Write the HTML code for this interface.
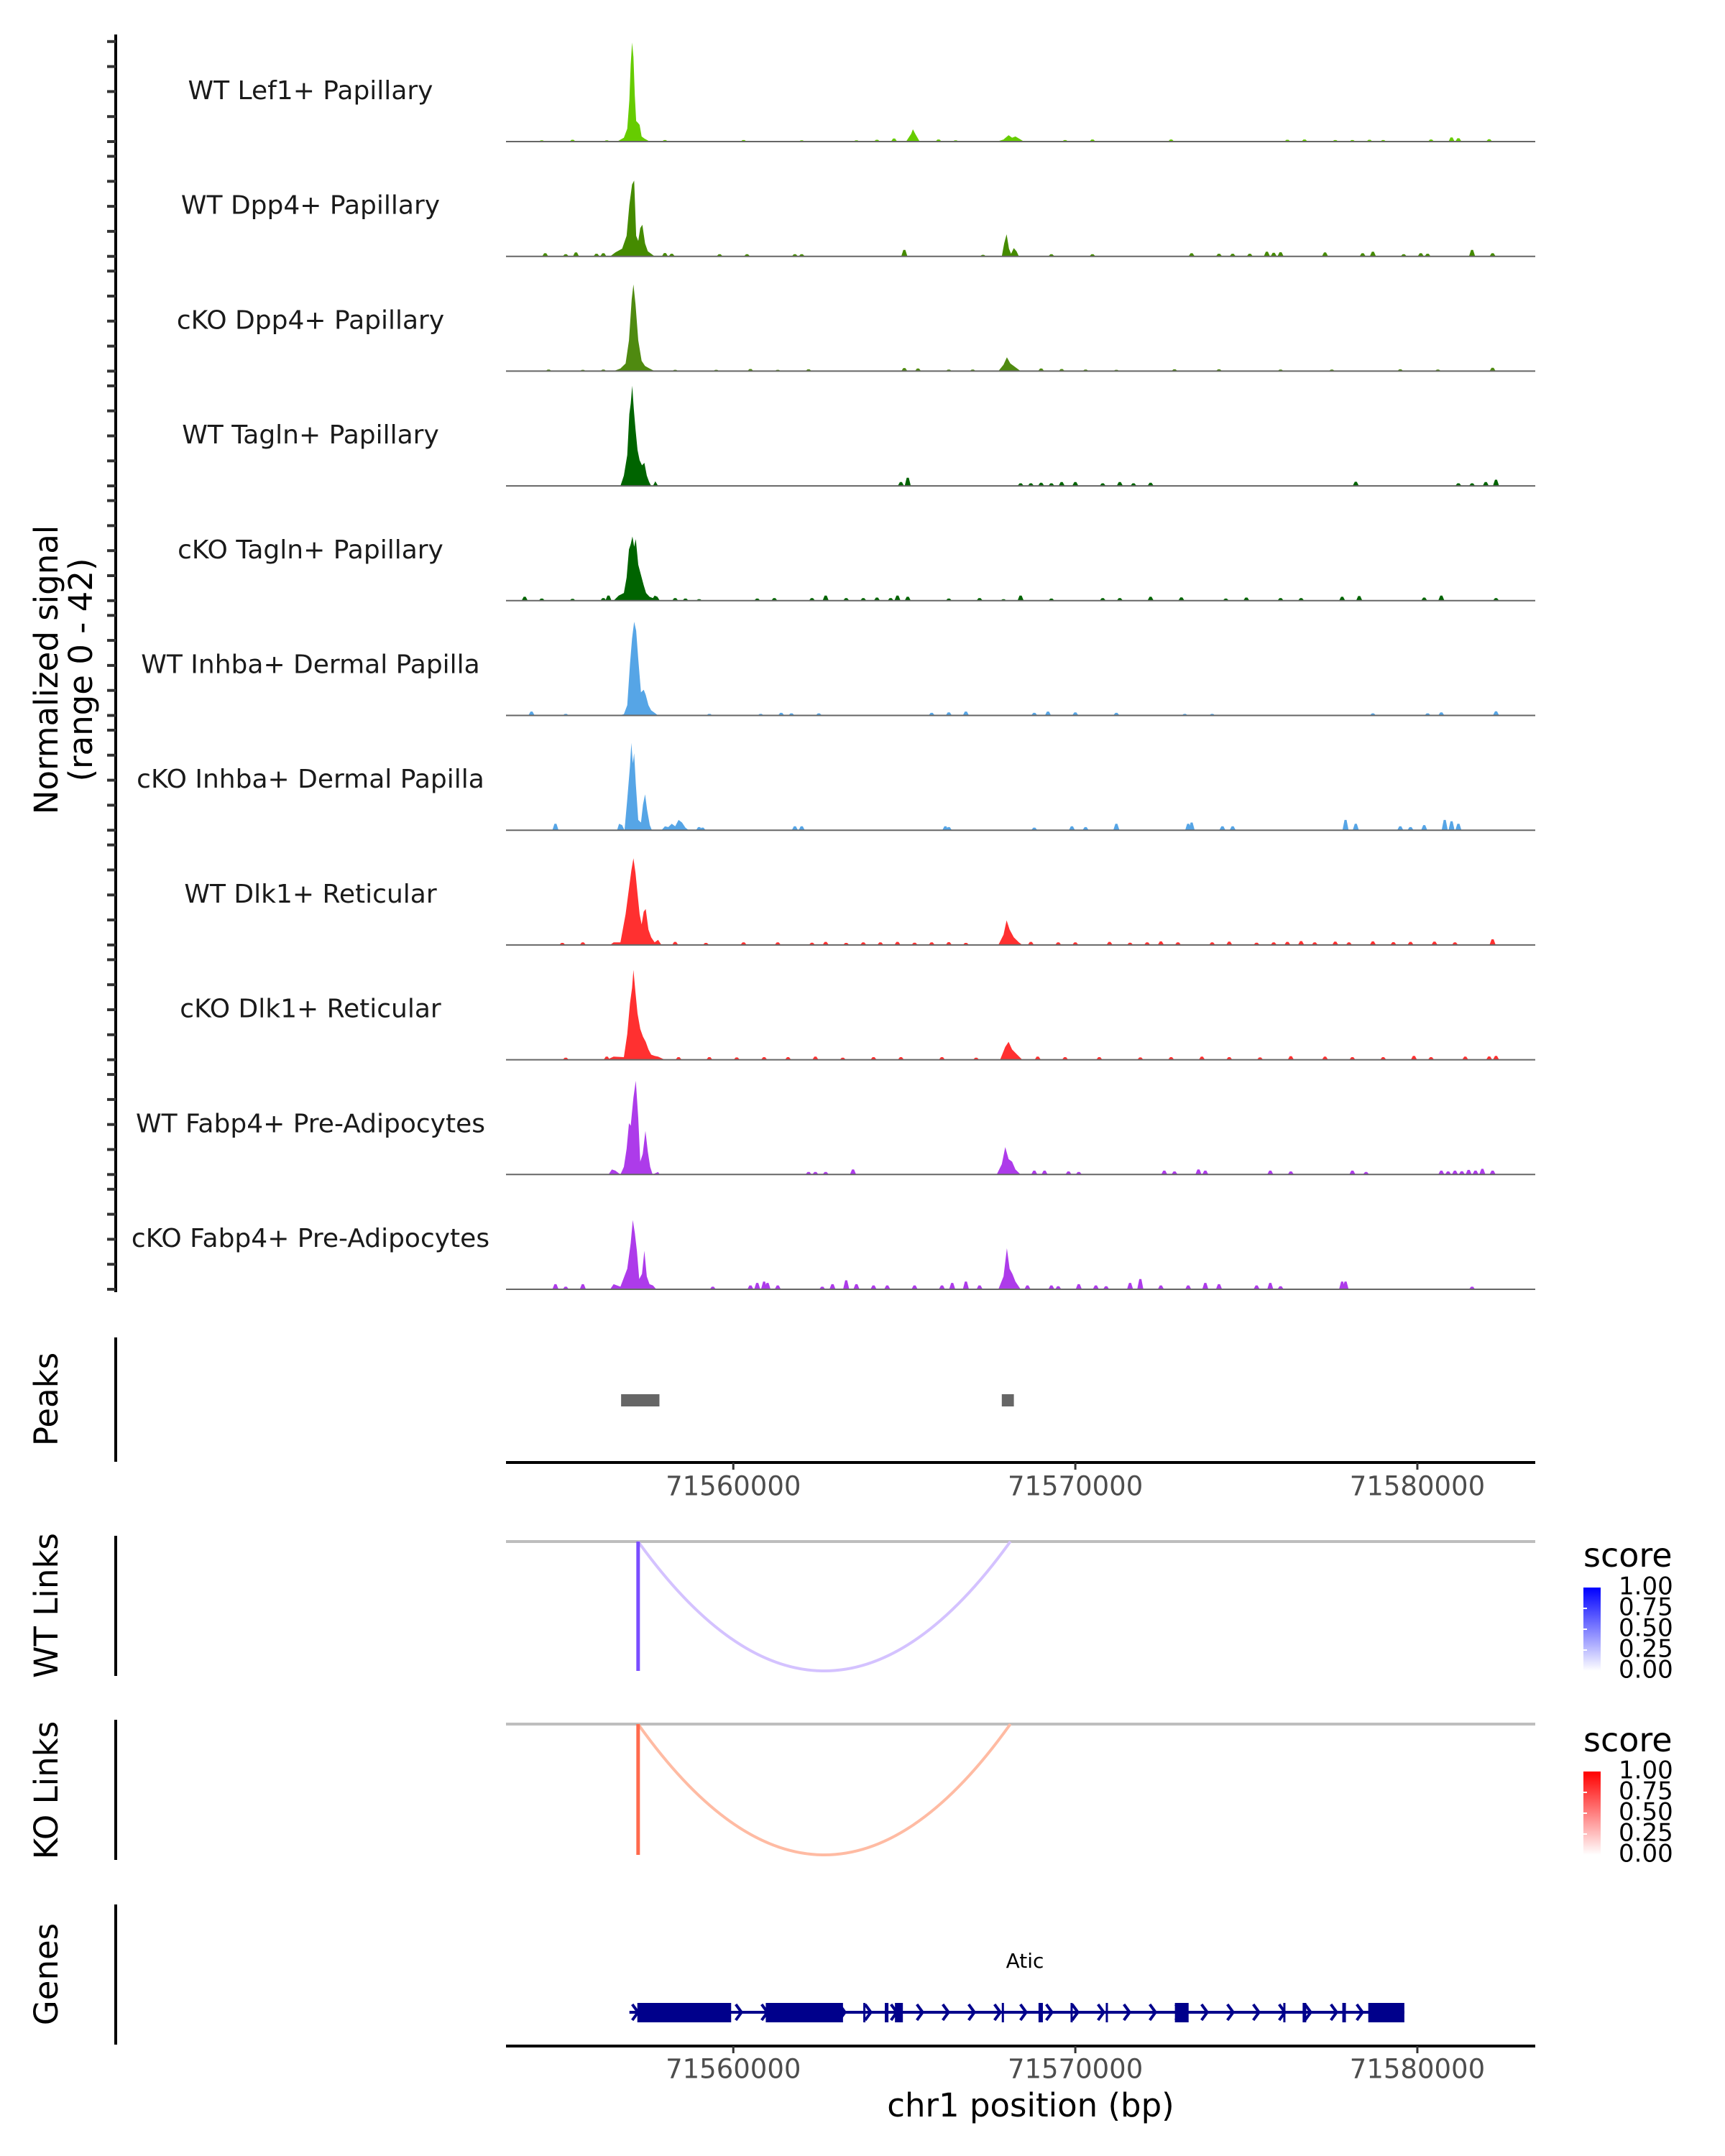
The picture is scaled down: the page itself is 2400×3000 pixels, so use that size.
<!DOCTYPE html>
<html><head><meta charset="utf-8"><style>
html,body{margin:0;padding:0;background:#fff;}
svg{display:block;font-family:"DejaVu Sans","Liberation Sans",sans-serif;}
</style></head><body>
<svg id="chart" width="2400" height="3000" viewBox="0 0 2400 3000" xmlns="http://www.w3.org/2000/svg">
<defs>
<linearGradient id="gWT" x1="0" y1="1" x2="0" y2="0"><stop offset="0" stop-color="#ffffff"/><stop offset="1" stop-color="#0000ff"/></linearGradient>
<linearGradient id="gKO" x1="0" y1="1" x2="0" y2="0"><stop offset="0" stop-color="#ffffff"/><stop offset="1" stop-color="#ff0000"/></linearGradient>
</defs>
<rect width="2400" height="3000" fill="#fff"/>
<g id="tracks"></g>
<text transform="translate(80,932) rotate(-90)" text-anchor="middle" font-size="45" fill="#000">Normalized signal</text>
<text transform="translate(128,932) rotate(-90)" text-anchor="middle" font-size="45" fill="#000">(range 0 - 42)</text>
<text transform="translate(80,1947) rotate(-90)" text-anchor="middle" font-size="45">Peaks</text>
<text transform="translate(80,2234) rotate(-90)" text-anchor="middle" font-size="45">WT Links</text>
<text transform="translate(80,2491) rotate(-90)" text-anchor="middle" font-size="45">KO Links</text>
<text transform="translate(80,2747) rotate(-90)" text-anchor="middle" font-size="45">Genes</text>
<line x1="161" y1="48" x2="161" y2="1798" stroke="#000" stroke-width="4"/>
<line x1="161" y1="1861" x2="161" y2="2034" stroke="#000" stroke-width="4"/>
<line x1="161" y1="2137" x2="161" y2="2332" stroke="#000" stroke-width="4"/>
<line x1="161" y1="2393" x2="161" y2="2588" stroke="#000" stroke-width="4"/>
<line x1="161" y1="2650" x2="161" y2="2845" stroke="#000" stroke-width="4"/>
<g id="yticks"></g>
<g id="peaks"></g>
<g id="axes"></g>
<g id="links"></g>
<g id="genes"></g>
<text x="1434" y="2945" text-anchor="middle" font-size="45">chr1 position (bp)</text>
<g>
<text x="2203" y="2180" font-size="46">score</text>
<rect x="2203" y="2209" width="24" height="116" fill="url(#gWT)"/>
</g>
<g>
<text x="2203" y="2437" font-size="46">score</text>
<rect x="2203" y="2465" width="24" height="116" fill="url(#gKO)"/>
</g>
<g id="legendlabels"></g>
</svg>
<script>
const NS="http://www.w3.org/2000/svg";
const trackNames=["WT Lef1+ Papillary","WT Dpp4+ Papillary","cKO Dpp4+ Papillary","WT Tagln+ Papillary","cKO Tagln+ Papillary","WT Inhba+ Dermal Papilla","cKO Inhba+ Dermal Papilla","WT Dlk1+ Reticular","cKO Dlk1+ Reticular","WT Fabp4+ Pre-Adipocytes","cKO Fabp4+ Pre-Adipocytes"];
const trackColors=["#66CC00","#458B00","#4F8A10","#006400","#006400","#56A5E6","#56A5E6","#FF3030","#FF3030","#AD3BEA","#AD3BEA"];
const shapePos=[
[71556600,71556800,71556900,71556960,71557000,71557040,71557080,71557120,71557160,71557200,71557260,71557320,71557400,71557480,71557560,71565050,71565200,71565250,71565320,71565450,71567700,71567900,71568050,71568150,71568250,71568400,71568500],
[71556400,71556550,71556750,71556880,71556960,71557040,71557100,71557160,71557220,71557280,71557340,71557420,71557500,71557600,71557700,71567850,71567920,71567990,71568060,71568120,71568200,71568280,71568350],
[71556500,71556700,71556850,71556950,71557030,71557080,71557140,71557220,71557320,71557420,71557550,71557700,71567750,71567900,71568000,71568100,71568250,71568400],
[71556700,71556800,71556900,71556960,71557000,71557045,71557090,71557140,71557200,71557260,71557330,71557400,71557470,71557540,71557600,71557650,71557720,71557800],
[71556500,71556650,71556800,71556880,71556950,71557000,71557050,71557100,71557150,71557220,71557300,71557380,71557450,71557550,71557650,71557700,71557780,71557850],
[71556650,71556800,71556900,71556980,71557040,71557100,71557160,71557220,71557300,71557380,71557440,71557520,71557600,71557700,71557800],
[71556600,71556660,71556750,71556820,71556900,71556980,71557020,71557060,71557100,71557150,71557220,71557300,71557360,71557420,71557480,71557560,71557620,71557900,71558000,71558100,71558200,71558300,71558400,71558500,71558600,71558700],
[71556400,71556500,71556700,71556850,71556950,71557020,71557080,71557140,71557200,71557260,71557320,71557380,71557440,71557520,71557600,71557700,71557800,71557900,71567750,71567900,71567990,71568080,71568200,71568350,71568450],
[71556300,71556500,71556800,71556900,71556980,71557040,71557080,71557140,71557200,71557280,71557360,71557440,71557520,71557600,71557700,71557800,71558000,71567800,71567950,71568050,71568150,71568300,71568450],
[71556350,71556450,71556550,71556700,71556800,71556880,71556950,71557000,71557080,71557150,71557220,71557280,71557350,71557430,71557500,71557570,71557640,71557800,71557850,71567700,71567850,71567950,71568050,71568150,71568250,71568400],
[71556400,71556500,71556700,71556900,71557000,71557060,71557120,71557180,71557250,71557330,71557400,71557470,71557550,71557650,71557750,71567750,71567900,71568000,71568080,71568160,71568250,71568400]
];
const shapeVal=[
[0,1.5,5,16,30,38.6,33,18,8,7.5,6.5,2,1.2,0.6,0,0,3,4.8,3,0,0,0.8,2.5,1.5,2,0.8,0],
[0,1.5,3,8,20,28,29.5,8,6,11,12.3,5,2,1,0,0,5,8.6,3,1,3.2,2,0],
[0,1,3,12,28,33.8,26,12,4,2,1,0,0,2.5,5.4,3,1.5,0],
[0,4,12,28,32,39,30,22,14,10,8,9,4,1.5,0,0,1.8,0],
[0,2,3,9,20,22,25,21,24,14,10,6,3,1.5,1,2,1.5,0],
[0,0.5,4,20,30,36.5,33,22,9,10,8,4,2,1,0],
[0,2.5,2,0,12,25,34,26,30,18,4,3,10,14,8,2,0,0,1.5,1.2,2.5,1.5,4,3,1,0],
[0,1,1,12,22,29,33.8,28,20,12,8,13,14,6,3,1,2,0,0,4,9.6,6,3,1,0],
[0,1.2,1,10,22,28,35,26,18,12,9,7,4,2,1.5,1.2,0,0,5,7,4,2,0],
[0,2,1.5,0,3,10,20,19,30,36.5,22,5,8,17,9,3,0,1,0,0,4,10.7,6,5,2,0],
[0,2,1,8,18,27,22,15,4,6,15,5,2,1.5,0,0,5,16,8,6,3,0]
];
const blipPos=[
[71554400,71555300,71556300,71558000,71560300,71562000,71563600,71564200,71564700,71566000,71566500,71569700,71570500,71572800,71576200,71576700,71577600,71578100,71578600,71579000,71580400,71581000,71581200,71582100],
[71554500,71555100,71555400,71556000,71556200,71558000,71558200,71559600,71560400,71561800,71562000,71565000,71567300,71569300,71570500,71573400,71574200,71574600,71575100,71575600,71575800,71576000,71577300,71578400,71578700,71579600,71580100,71580300,71581600,71582200],
[71554600,71555600,71556200,71558300,71559500,71560500,71561300,71562200,71565000,71565400,71566300,71567000,71569000,71569600,71570300,71571200,71572900,71574200,71576000,71577500,71579500,71580600,71582200],
[71564900,71565100,71568400,71568700,71569000,71569300,71569600,71570000,71570800,71571300,71571700,71572200,71578200,71581200,71581600,71582000,71582300],
[71553900,71554400,71555300,71556200,71556350,71558300,71558600,71559000,71560700,71561200,71562300,71562700,71563300,71563800,71564200,71564600,71564800,71565100,71566300,71567200,71567900,71568400,71569300,71570800,71571300,71572200,71573100,71574400,71575000,71576000,71576600,71577800,71578300,71580200,71580700,71582300],
[71554100,71555100,71559300,71560800,71561400,71561700,71562500,71565800,71566300,71566800,71568800,71569200,71570000,71571200,71573200,71574000,71578700,71580300,71580700,71582300],
[71554800,71559000,71559100,71561800,71562000,71566200,71566300,71568800,71569900,71570300,71571200,71573300,71573400,71574300,71574600,71577900,71578200,71579500,71579800,71580200,71580800,71581000,71581200],
[71555000,71555600,71558300,71559200,71560300,71561300,71562300,71562700,71563300,71563800,71564300,71564800,71565300,71565800,71566300,71566800,71568700,71569500,71570000,71571000,71571600,71572100,71572500,71573000,71574000,71574500,71575300,71575800,71576200,71576600,71577000,71577600,71578000,71578700,71579300,71579800,71580500,71581100,71582200],
[71555100,71556300,71558400,71559300,71560100,71560900,71561600,71562400,71563200,71564100,71564900,71566100,71567100,71568900,71569700,71570700,71571900,71572800,71573700,71574500,71575400,71576300,71577300,71578100,71579000,71579900,71580400,71581400,71582100,71582300],
[71562200,71562400,71562700,71563500,71568800,71569100,71569800,71570100,71572600,71572900,71573600,71573800,71575700,71576300,71578100,71578500,71580700,71580900,71581100,71581300,71581500,71581700,71581900,71582200],
[71554800,71555100,71555600,71559400,71560500,71560700,71560900,71561000,71561300,71562600,71562900,71563300,71563600,71564100,71564500,71565300,71566100,71566400,71566800,71567200,71568600,71569300,71569500,71570100,71570600,71570900,71571600,71571900,71572500,71573300,71573800,71574200,71575300,71575700,71576000,71577800,71577900,71581600]
];
const blipVal=[
[0.5,0.7,0.5,0.6,0.6,0.5,0.5,0.7,1.2,0.8,0.5,0.6,0.8,0.8,0.7,0.8,0.6,0.6,0.7,0.6,0.8,1.6,1.3,0.9],
[1.2,0.8,1.5,1,1.2,1.3,1.0,0.8,0.8,0.8,0.8,2.5,0.6,0.8,0.8,1.2,1.0,1.0,1.0,1.8,1.4,1.6,1.5,1.2,1.8,0.8,1.2,1.0,2.5,1.2],
[0.6,0.5,0.6,0.5,0.5,0.8,0.5,0.7,1.2,1.0,0.6,0.6,1.0,0.8,0.6,0.5,0.7,0.7,0.6,0.6,0.7,0.6,1.3],
[1.5,3.2,1.0,1.0,1.2,1.0,1.5,1.5,1.0,1.5,1.0,1.2,1.6,1.0,1.0,1.5,2.4],
[1.5,0.8,0.7,1.0,2.0,1.0,0.8,0.6,0.8,1.0,1.0,2.0,1.0,1.0,1.2,1.0,2.0,1.5,0.8,1.0,0.6,2.0,0.8,1.0,1.0,1.5,1.3,0.8,1.2,1.0,1.0,1.5,1.8,1.2,2.0,1.0],
[1.5,0.6,0.6,0.6,1.0,0.8,0.8,1.0,1.2,1.5,1.0,1.5,1.2,1.0,0.6,0.6,0.8,0.8,1.2,1.6],
[2.5,1.2,1.0,1.5,1.5,1.5,1.2,1.0,1.5,1.2,2.5,2.5,3.0,1.5,1.5,4.0,2.5,1.5,1.2,2.0,4.0,3.5,2.5],
[0.8,1.0,1.2,0.8,1.0,1.0,0.9,1.2,0.8,1.0,1.0,1.2,0.9,1.0,1.1,0.8,1.2,1.0,1.0,1.2,0.9,1.0,1.4,1.0,1.0,1.3,0.9,1.0,1.2,1.5,1.0,1.3,1.0,1.4,1.1,1.2,1.3,1.0,2.2],
[0.8,1.2,1.0,1.0,0.9,1.0,1.0,1.2,0.8,1.0,1.0,1.0,0.8,1.2,1.0,1.0,0.9,1.0,1.2,1.0,0.9,1.4,1.2,1.0,1.0,1.5,1.0,1.2,1.3,1.5],
[1,1,1,2,1.5,1.5,1.2,1,1.5,1.2,2,1.5,1.5,1.2,1.5,1,1.5,1.2,1.5,1.3,1.8,1.5,2.2,1.5],
[2,1,2,1,1.5,2.5,3,2.5,1.5,1,2,3.5,2,1.5,1.5,1.5,1.5,2.5,3,1.5,1.5,1.5,1.2,2,1.5,1.2,2.5,4,1.5,1.5,2.5,2,1.5,2.5,1.2,3,3,1]
];
const peakStarts=[71556719,71567850];
const peakEnds=[71557840,71568203];
const xTicks=[71560000,71570000,71580000];
const xTickLabels=["71560000","71570000","71580000"];
const linkStart=[71557217];
const linkEnd=[71568100];
const exonStarts=[71557194,71560949,71563800,71564430,71564726,71567850,71568924,71569860,71570890,71572911,71576080,71576646,71577806,71578565];
const exonEnds=[71559937,71563207,71563860,71564536,71564958,71567900,71569051,71569900,71570930,71573312,71576120,71576751,71577911,71579620];
const geneStart=[71556962];
const geneEnd=[71579620];
const legendLabels=["1.00","0.75","0.50","0.25","0.00"];
const legendVals=[1,0.75,0.5,0.25,0];

const X0=704,X1=2136,BP0=71553354,BP1=71583447;
function x(bp){return X0+(bp-BP0)*(X1-X0)/(BP1-BP0);}
const TRACK0=197,TRACKH=159.7,YMAX=42,YPX=150;
function base(i){return TRACK0+i*TRACKH;}
function y(i,v){return base(i)-v*YPX/YMAX;}
function mk(tag,attrs,parent){const e=document.createElementNS(NS,tag);for(const k in attrs)e.setAttribute(k,attrs[k]);parent.appendChild(e);return e;}

const gT=document.getElementById('tracks');
for(let i=0;i<trackNames.length;i++){
  const g=mk('g',{},gT);
  
  
  const b=base(i);
  const lab=mk('text',{x:432,y:b-59,'text-anchor':'middle','font-size':36,fill:'#1a1a1a'},g);
  lab.textContent=trackNames[i];
  
  
  const P=shapePos[i],V=shapeVal[i];
  let d='M'+x(P[0]).toFixed(1)+','+b;
  for(let k=0;k<P.length;k++)d+=' L'+x(P[k]).toFixed(1)+','+y(i,V[k]).toFixed(1);
  d+=' L'+x(P[P.length-1]).toFixed(1)+','+b+' Z';
  const area=mk('path',{d:d,fill:trackColors[i]},g);
  
  
  const BP=blipPos[i],BV=blipVal[i];
  for(let k=0;k<BP.length;k++){
    const bl=mk('path',{d:'M'+x(BP[k]-90).toFixed(1)+','+b+' L'+x(BP[k]-30).toFixed(1)+','+y(i,BV[k]).toFixed(1)+' L'+x(BP[k]+30).toFixed(1)+','+y(i,BV[k]).toFixed(1)+' L'+x(BP[k]+90).toFixed(1)+','+b+' Z',fill:trackColors[i]},g);
    
    
  }
  const bl=mk('line',{x1:X0,x2:X1,y1:b,y2:b,stroke:'#666',"stroke-width":2},g);
  
  
}
const gY=document.getElementById('yticks');
for(let i=0;i<trackNames.length;i++){
  for(let k=0;k<5;k++){
    const yy=base(i)-k*34.8;
    const t=mk('line',{x1:149,x2:161,y1:yy,y2:yy,stroke:'#333','stroke-width':4},gY);
    
    
  }
}
const gP=document.getElementById('peaks');
for(let k=0;k<peakStarts.length;k++){
  const r=mk('rect',{x:x(peakStarts[k]),y:1940,width:x(peakEnds[k])-x(peakStarts[k]),height:17,fill:'#666666'},gP);
  
  
}
const gA=document.getElementById('axes');
[[2035,2070],[2847,2881]].forEach(function(a,ai){
  const l=mk('line',{x1:X0,x2:X1,y1:a[0],y2:a[0],stroke:'#000','stroke-width':4},gA);
  
  
  for(let k=0;k<xTicks.length;k++){
    const t=mk('line',{x1:x(xTicks[k]),x2:x(xTicks[k]),y1:a[0],y2:a[0]+10,stroke:'#333','stroke-width':3},gA);
    
    
    const tl=mk('text',{x:x(xTicks[k]),y:a[1],'text-anchor':'middle','dominant-baseline':'middle','font-size':37,fill:'#4d4d4d'},gA);
    tl.textContent=xTickLabels[k];
    
    
  }
});
const gL=document.getElementById('links');
[[2145,2325,'#d4c2ff','#7a4dff','wt'],[2399,2581,'#ffbba3','#ff6a4d','ko']].forEach(function(p){
  const gl=mk('line',{x1:X0,x2:X1,y1:p[0],y2:p[0],stroke:'#bebebe','stroke-width':4},gL);
  
  
  for(let k=0;k<linkStart.length;k++){
    const a=x(linkStart[k]),b=x(linkEnd[k]);
    const arc=mk('path',{d:'M'+a+','+p[0]+' Q'+((a+b)/2)+','+(2*p[1]-p[0])+' '+b+','+p[0],fill:'none',stroke:p[2],'stroke-width':4},gL);
    
    
    const v=mk('line',{x1:a,x2:a,y1:p[0],y2:p[1],stroke:p[3],'stroke-width':5},gL);
    
    
  }
});
const gG=document.getElementById('genes');
const gs=x(geneStart[0]),ge=x(geneEnd[0]);
const gline=mk('line',{x1:gs,x2:ge,y1:2800,y2:2800,stroke:'#00008B','stroke-width':4},gG);


for(let ax=gs+8;ax<ge-10;ax+=36){
  const ch=mk('path',{d:'M'+(ax-4)+',2789 L'+(ax+4)+',2800 L'+(ax-4)+',2811',fill:'none',stroke:'#00008B','stroke-width':4},gG);
  
  
}
for(let k=0;k<exonStarts.length;k++){
  const r=mk('rect',{x:x(exonStarts[k]),y:2787,width:Math.max(3,x(exonEnds[k])-x(exonStarts[k])),height:27,fill:'#00008B'},gG);
  
  
}
const gname=mk('text',{x:1426,y:2738,'text-anchor':'middle','font-size':28,fill:'#000'},gG);
gname.textContent='Atic';


const gLL=document.getElementById('legendlabels');
[2209,2465].forEach(function(top){
  for(let k=0;k<legendLabels.length;k++){
    const yy=top+116*(1-legendVals[k]);
    const t=mk('text',{x:2252,y:yy,'dominant-baseline':'middle','font-size':34,fill:'#000'},gLL);
    t.textContent=legendLabels[k];
    
    
    if(k>0&&k<4){
      const tk=mk('line',{x1:2203,x2:2208,y1:yy,y2:yy,stroke:'#fff','stroke-width':2},gLL);
      
      
    }
  }
});
</script>
</body></html>
